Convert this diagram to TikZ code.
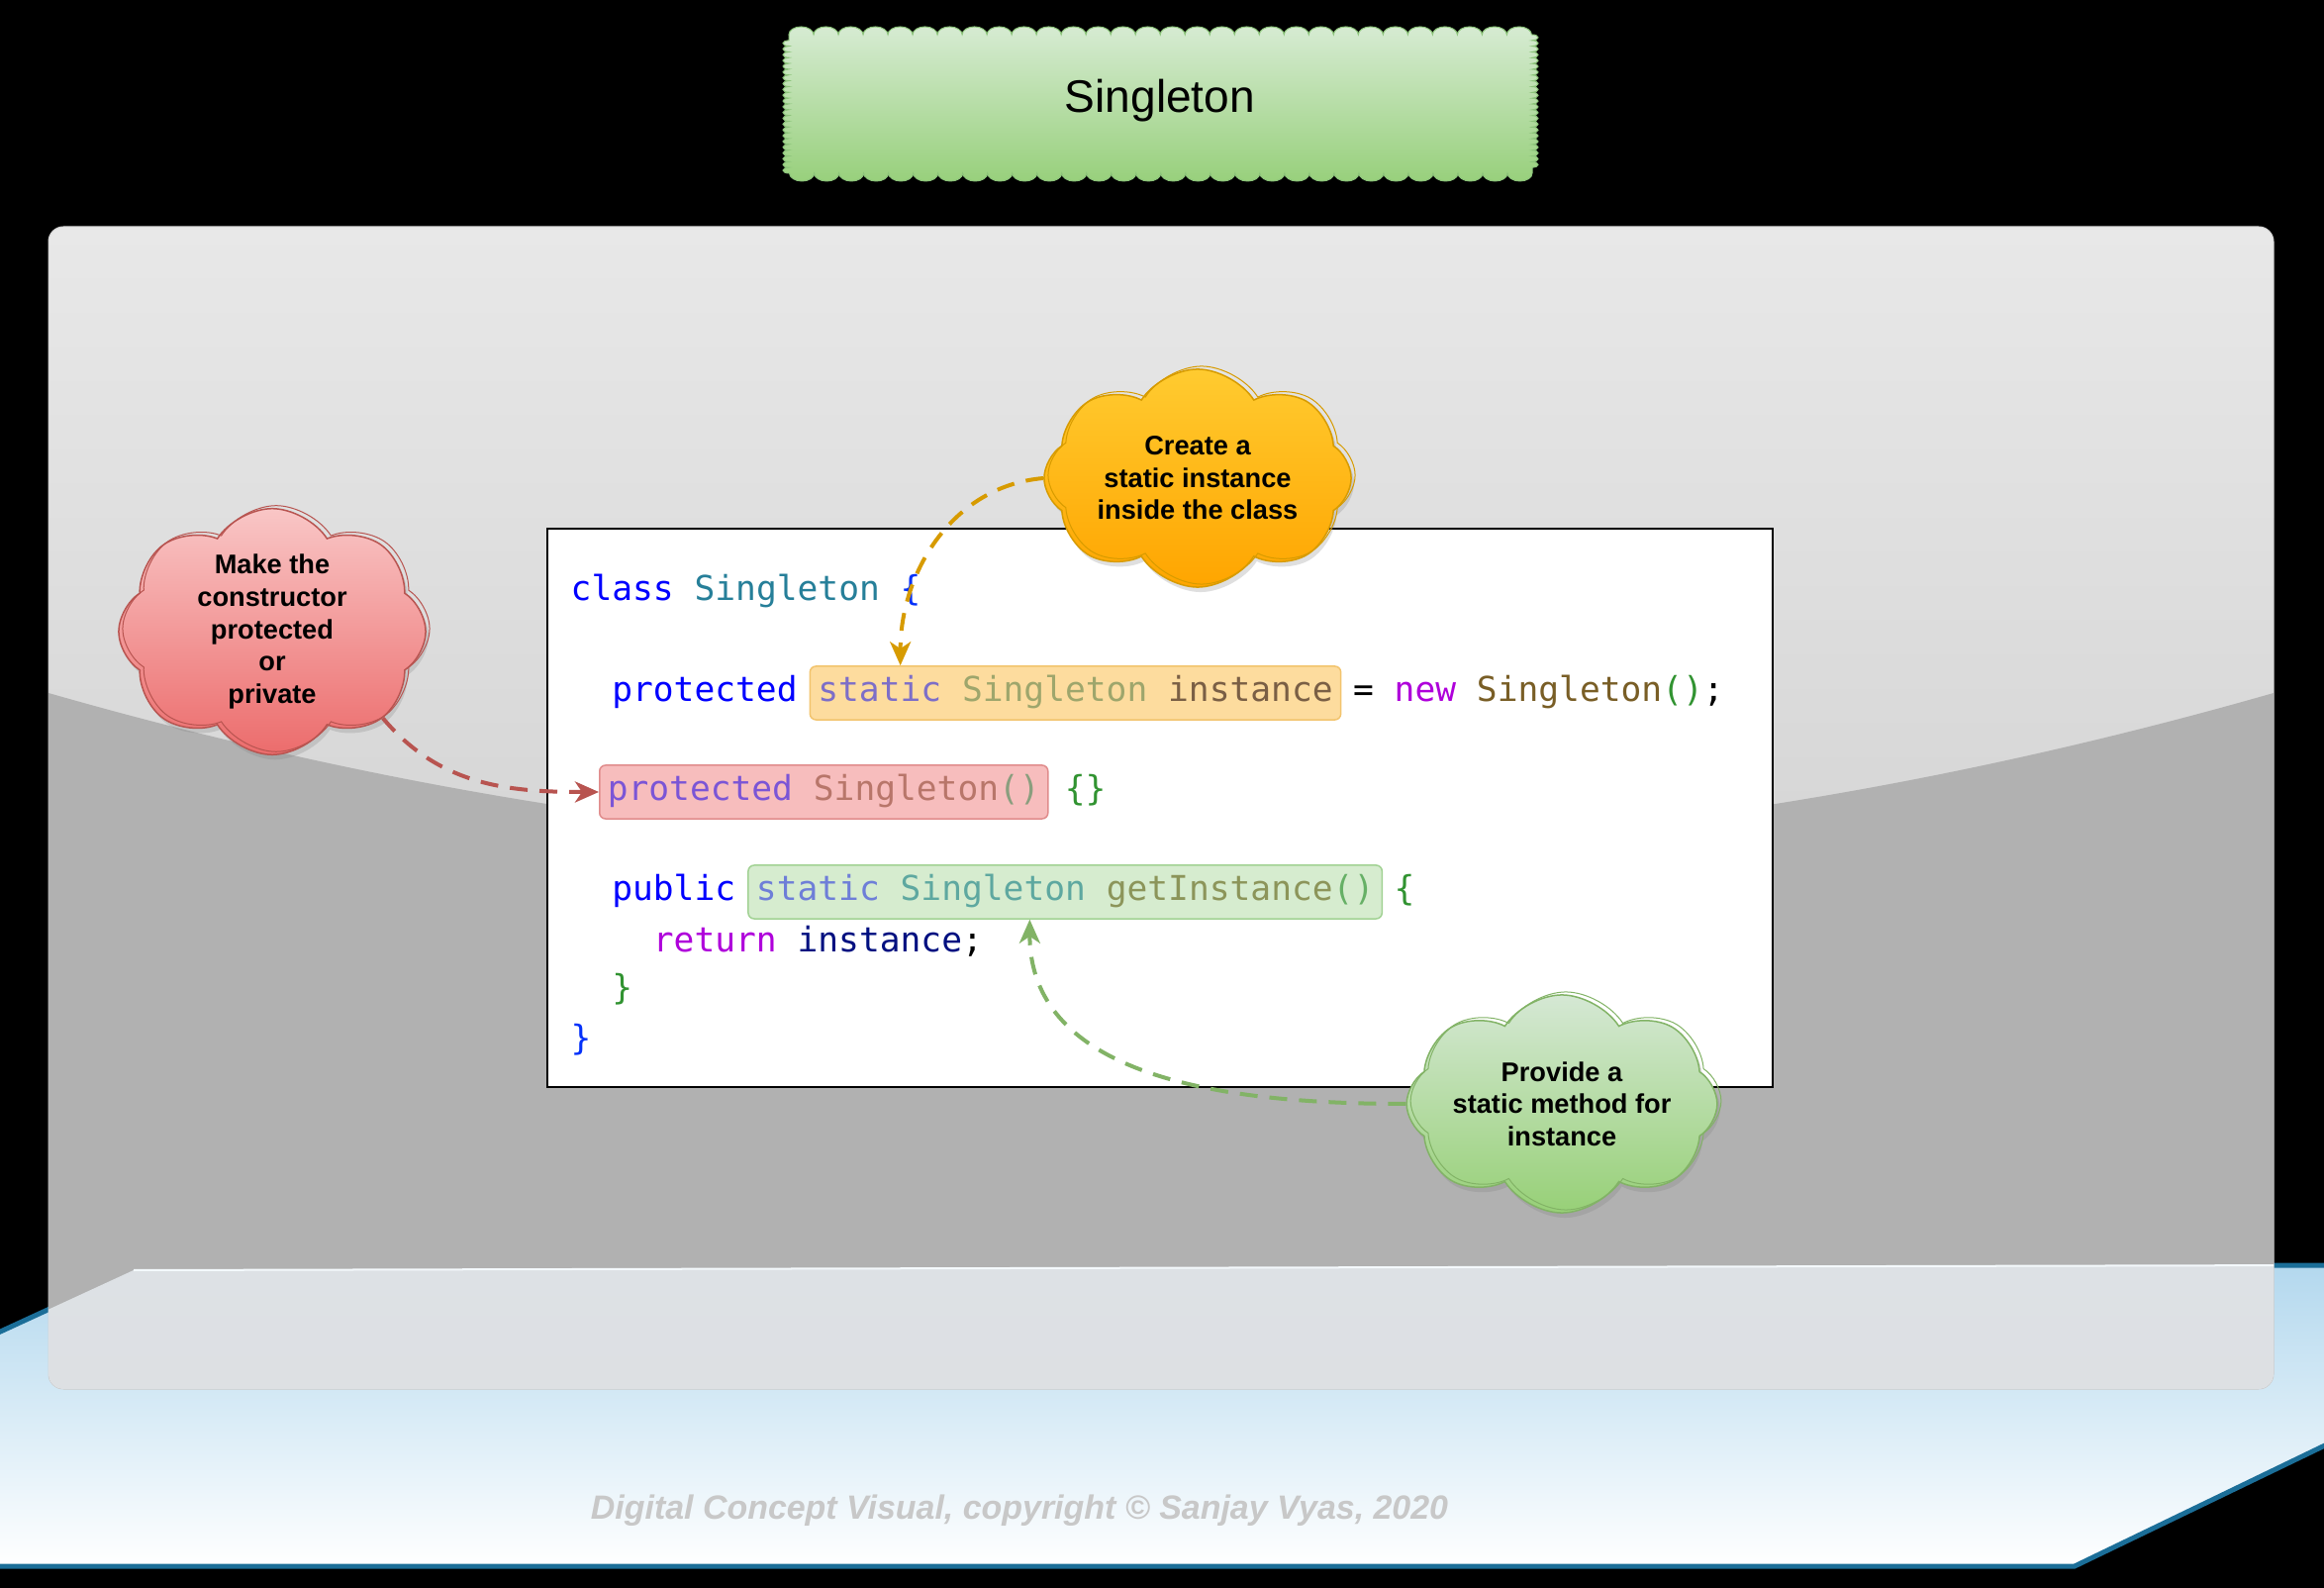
\documentclass[tikz,border=0pt]{standalone}
\usepackage{fontspec}
\setmainfont{Liberation Sans}
\newfontfamily\codefamily{DejaVu Sans Mono}
\usetikzlibrary{shapes.symbols,shadows,arrows.meta,decorations.pathmorphing}

% colours
\definecolor{bannerTop}{HTML}{D6EBD2}
\definecolor{bannerBot}{HTML}{98D07C}
\definecolor{bannerLine}{HTML}{8CC47A}
\definecolor{panelTop}{HTML}{E8E8E8}
\definecolor{panelBot}{HTML}{C6C6C6}
\definecolor{panelLow}{HTML}{B1B1B1}
\definecolor{glassTop}{HTML}{DDE1E5}
\definecolor{glassBot}{HTML}{DCDEE0}
\definecolor{floorTop}{HTML}{B3D8EE}
\definecolor{floorLine}{HTML}{1B6E98}
\definecolor{creditGray}{HTML}{C8C8C8}
\definecolor{kwBlue}{HTML}{0000FF}
\definecolor{typeTeal}{HTML}{267F99}
\definecolor{braceBlue}{HTML}{0431FA}
\definecolor{kwPink}{HTML}{AF00DB}
\definecolor{fnBrown}{HTML}{795E26}
\definecolor{parGreen}{HTML}{319331}
\definecolor{varNavy}{HTML}{001080}
\definecolor{hlOrangeFill}{HTML}{FDDC9E}
\definecolor{hlOrangeLine}{HTML}{F2C46E}
\definecolor{hlRedFill}{HTML}{F7BDBD}
\definecolor{hlRedLine}{HTML}{E08C8C}
\definecolor{hlGreenFill}{HTML}{D6ECCF}
\definecolor{hlGreenLine}{HTML}{A2D294}
\definecolor{redTop}{HTML}{F9C6C6}
\definecolor{redBot}{HTML}{EC6C6C}
\definecolor{redLine}{HTML}{B85450}
\definecolor{orangeTop}{HTML}{FFCB30}
\definecolor{orangeBot}{HTML}{FFA500}
\definecolor{orangeLine}{HTML}{D79B00}
\definecolor{greenTop}{HTML}{D5E8D4}
\definecolor{greenBot}{HTML}{97D077}
\definecolor{greenLine}{HTML}{82B366}

\newcommand{\codefont}{\codefamily\fontsize{9.83pt}{12pt}\selectfont}
\newcommand{\notefont}{\bfseries\fontsize{7.74pt}{9.28pt}\selectfont}

\tikzset{
  codetxt/.style={font=\codefont, inner sep=0pt, anchor=base west},
  hlbox/.style={codetxt, rounded corners=0.06cm, inner xsep=0.08cm, inner ysep=0.09cm,
    text height=0.27cm, text depth=0.09cm, line width=0.015cm},
  hlorange/.style={hlbox, fill=hlOrangeFill, draw=hlOrangeLine},
  hlred/.style={hlbox, fill=hlRedFill, draw=hlRedLine},
  hlgreen/.style={hlbox, fill=hlGreenFill, draw=hlGreenLine},
  note/.style={cloud, cloud puffs=8, cloud puff arc=115, cloud ignores aspect,
    minimum width=3.1cm, minimum height=2.2cm, inner sep=0pt, align=center,
    font=\notefont, line width=0.015cm,
    drop shadow={opacity=0.25, shadow xshift=0.03cm, shadow yshift=-0.05cm}},
  sketch/.style={postaction={draw=#1, line width=0.01cm,
    transform canvas={xshift=0.04cm, yshift=0.03cm}}},
  flow/.style={line width=0.04cm, dash pattern=on 0.18cm off 0.12cm,
    -{Stealth[length=0.24cm, width=0.21cm, inset=0.07cm]}},
}

\begin{document}
\begin{tikzpicture}[x=0.01cm, y=-0.01cm]
  \useasboundingbox (0,0) rectangle (2348,1604);
  \fill[black] (0,0) rectangle (2348,1604);

  % floor
  \shadedraw[top color=floorTop, bottom color=white, draw=floorLine, line width=0.05cm]
    (-30,1359) -- (135,1283) -- (2380,1278) -- (2380,1445) -- (2096,1582) -- (-30,1582) -- cycle;

  % panel
  \shadedraw[top color=panelTop, bottom color=panelBot, draw=panelTop!80!gray,
    line width=0.01cm, rounded corners=0.15cm] (49,229) rectangle (2297,1403);
  \begin{scope}
    \clip[rounded corners=0.15cm] (49,229) rectangle (2297,1403);
    \fill[panelLow] (49,700) .. controls (800,915) and (1546,915) .. (2297,700)
      -- (2297,1403) -- (49,1403) -- cycle;
    \shade[top color=glassTop, bottom color=glassBot]
      (-30,1359) -- (135,1283) -- (2380,1278) -- (2380,1445) -- (2096,1582) -- (-30,1582) -- cycle;
    \draw[white!85!floorTop, line width=0.02cm] (135,1283) -- (2348,1278);
  \end{scope}

  % banner
  \shadedraw[top color=bannerTop, bottom color=bannerBot, draw=bannerLine, line width=0.01cm]
    (797,35)
    decorate[decoration={bumps, segment length=0.5cm, amplitude=0.08cm}] {-- (1548,35)}
    decorate[decoration={bumps, segment length=0.1167cm, amplitude=0.06cm}] {-- (1548,175)}
    decorate[decoration={bumps, segment length=0.5cm, amplitude=0.08cm}] {-- (797,175)}
    decorate[decoration={bumps, segment length=0.1167cm, amplitude=0.06cm}] {-- (797,35)}
    -- cycle;
  \node[font=\fontsize{13.1pt}{15pt}\selectfont] (title) at (1172,102) {Singleton};

  % code
  \node[draw=black, fill=white, line width=0.02cm, minimum width=12.38cm,
    minimum height=5.63cm] (code) at (1172,816) {};

  \node[codetxt] (l1) at (576,607) {\textcolor{kwBlue}{class} \textcolor{typeTeal}{Singleton} \textcolor{braceBlue}{\{}};

  \node[codetxt, kwBlue] (l2kw) at (617.6,709) {protected};
  \node[hlorange] (inst) at (817.6,709) {\textcolor[HTML]{7D6EC8}{static} \textcolor[HTML]{9EA66C}{Singleton} \textcolor[HTML]{7A5F45}{instance}};
  \node[codetxt] (l2rest) at (1366.4,709) {= \textcolor{kwPink}{new} \textcolor{fnBrown}{Singleton}\textcolor{parGreen}{()};};

  \node[hlred] (ctor) at (605,809) {\textcolor[HTML]{7B55D6}{protected} \textcolor[HTML]{B8766A}{Singleton}\textcolor[HTML]{8A9E7E}{()}};
  \node[codetxt, parGreen] (l3rest) at (1075.2,809) {\{\}};

  \node[codetxt, kwBlue] (l4kw) at (617.6,910) {public};
  \node[hlgreen] (getinst) at (755.2,910) {\textcolor[HTML]{6E7ED8}{static} \textcolor[HTML]{5EA8A0}{Singleton} \textcolor[HTML]{8C955A}{getInstance}\textcolor[HTML]{66B066}{()}};
  \node[codetxt, parGreen] (l4rest) at (1408,910) {\{};

  \node[codetxt] (l5) at (659.2,962) {\textcolor{kwPink}{return} \textcolor{varNavy}{instance};};
  \node[codetxt, parGreen] (l6) at (617.6,1010) {\}};
  \node[codetxt, braceBlue] (l7) at (576,1061) {\}};

  % notes
  \node[note, top color=redTop, bottom color=redBot, draw=redLine, sketch=redLine] (rcloud) at (275,638)
    {Make the\\constructor\\protected\\or\\private};
  \node[note, top color=orangeTop, bottom color=orangeBot, draw=orangeLine, sketch=orangeLine] (ocloud) at (1210,483)
    {Create a\\static instance\\inside the class};
  \node[note, top color=greenTop, bottom color=greenBot, draw=greenLine, sketch=greenLine] (gcloud) at (1578,1115)
    {Provide a\\static method for\\instance};

  % arrows
  \draw[flow, orangeLine] (ocloud.west) to[out=185, in=90] ([xshift=0.92cm]inst.north west);
  \draw[flow, redLine] (rcloud.-38) to[out=-50, in=180] (ctor.west);
  \draw[flow, greenLine] (gcloud.west) to[out=180, in=-90] ([xshift=2.85cm]getinst.south west);

  \node[font=\bfseries\itshape\fontsize{9.65pt}{11pt}\selectfont, creditGray] (credit) at (1030,1526)
    {Digital Concept Visual, copyright © Sanjay Vyas, 2020};
\end{tikzpicture}
\end{document}
